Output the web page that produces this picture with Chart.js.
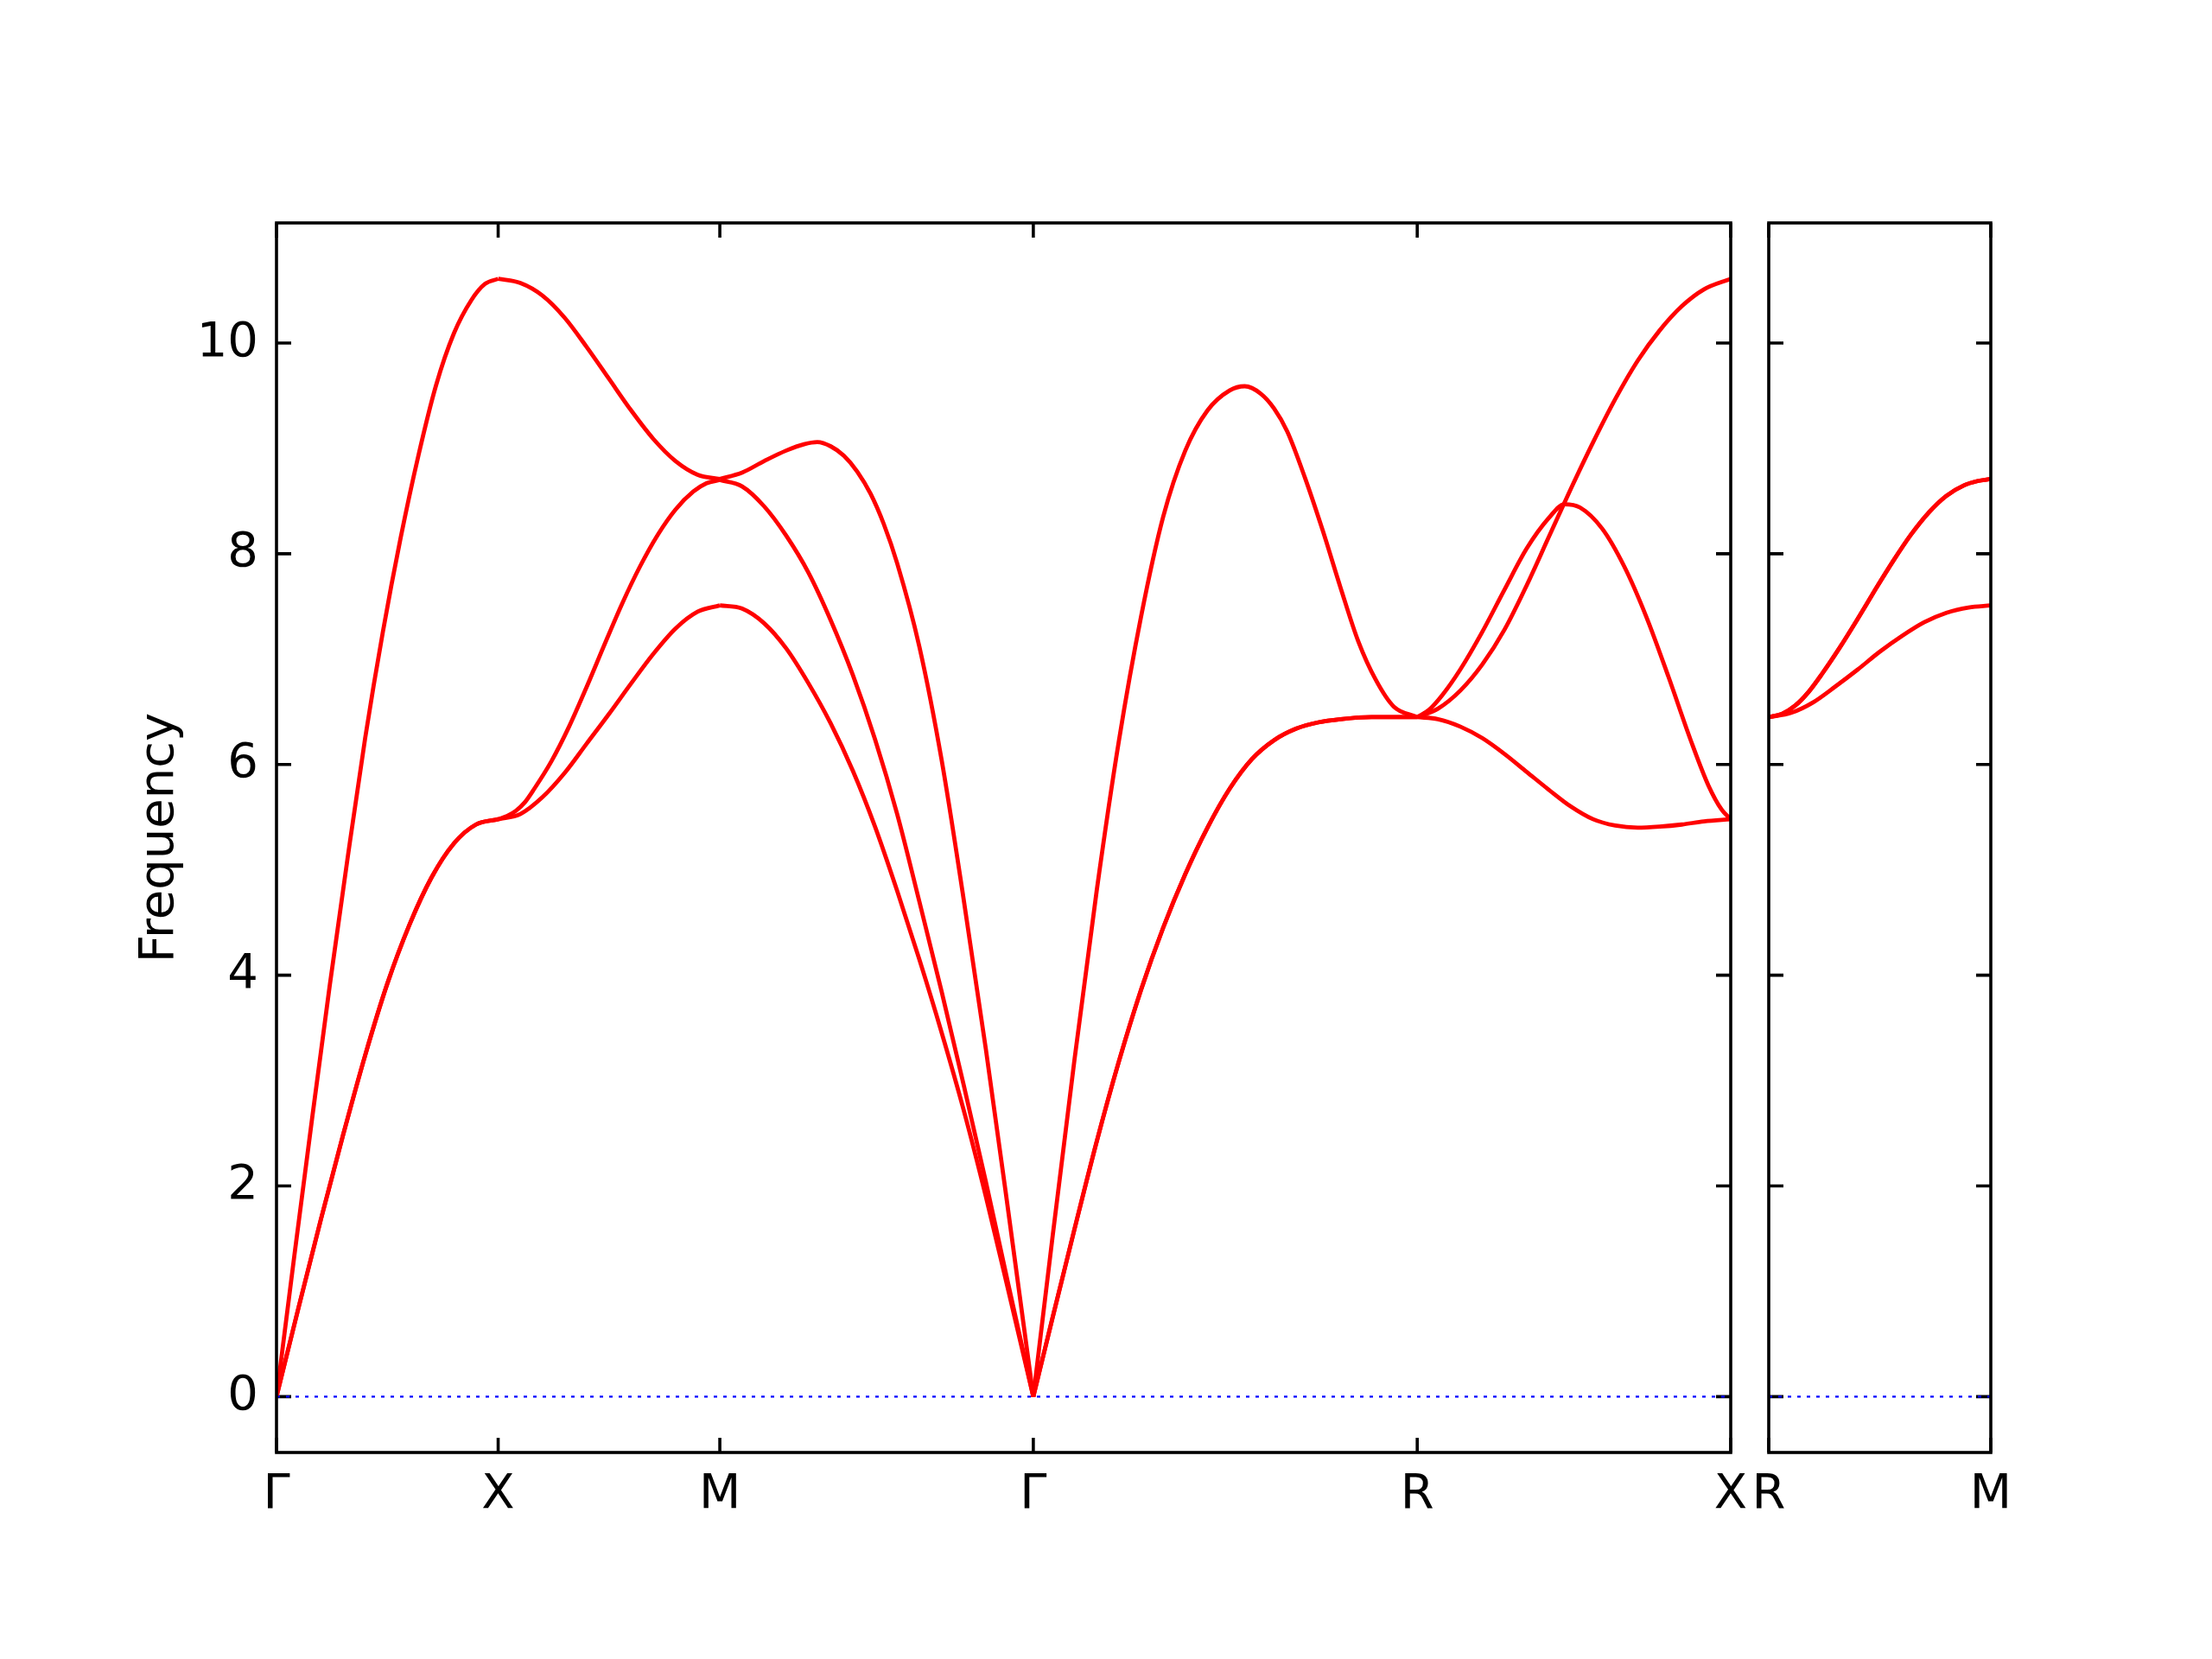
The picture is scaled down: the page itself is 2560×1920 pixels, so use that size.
<!DOCTYPE html>
<html>
<head>
<meta charset="utf-8">
<title>Phonon band structure</title>
<script src="https://cdn.jsdelivr.net/npm/chart.js@4.4.1/dist/chart.umd.min.js"></script>
<style>
    html, body { margin: 0; padding: 0; background: #ffffff; }
    #fig { position: relative; width: 2560px; height: 1920px; }
    #fig canvas { position: absolute; left: 0; top: 0; }
</style>
</head>
<body>
<div id="fig">
    <canvas id="panel-main" width="2560" height="1920"></canvas>
    <canvas id="panel-side" width="2560" height="1920"></canvas>
</div>
<script>
// ========================================================================
// 1. DATA (path coordinate, frequency)
// ========================================================================

// high-symmetry points along the path
const pathMainPos = [0, 0.5, 1.0, 1.7071, 2.5731, 3.2802];
const pathMainLabels = ['Γ', 'X', 'M', 'Γ', 'R', 'X'];
const pathSidePos = [0, 0.5];
const pathSideLabels = ['R', 'M'];
const yTicks = [0, 2, 4, 6, 8, 10];
const yRange = [-0.53, 11.14];

// Γ - X
const gxLong = [[0,0],[0.04,1.33],[0.08,2.63],[0.12,3.90],[0.16,5.10],[0.20,6.25],[0.24,7.26],[0.28,8.15],[0.32,8.93],[0.36,9.60],[0.40,10.09],[0.44,10.41],[0.47,10.56],[0.5,10.61]];
const gxTrans = [[0,0],[0.05,0.85],[0.10,1.68],[0.15,2.48],[0.20,3.24],[0.25,3.92],[0.30,4.48],[0.35,4.93],[0.40,5.25],[0.45,5.43],[0.5,5.48]];

// X - M
const xmUpper = [[0.5,10.61],[0.55,10.57],[0.6,10.45],[0.65,10.24],[0.7,9.96],[0.75,9.66],[0.8,9.36],[0.85,9.09],[0.9,8.88],[0.95,8.75],[1.0,8.71]];
const xmMiddle = [[0.5,5.48],[0.52,5.51],[0.54,5.56],[0.56,5.64],[0.58,5.76],[0.62,6.03],[0.66,6.36],[0.70,6.74],[0.74,7.14],[0.78,7.53],[0.82,7.88],[0.86,8.18],[0.90,8.42],[0.94,8.59],[0.97,8.67],[1.0,8.70]];
const xmLower = [[0.5,5.48],[0.55,5.53],[0.60,5.69],[0.65,5.92],[0.70,6.20],[0.75,6.48],[0.80,6.77],[0.85,7.05],[0.90,7.29],[0.95,7.45],[1.0,7.51]];

// M - Γ
const mgUpper = [[1.0,8.71],[1.05,8.77],[1.10,8.88],[1.15,8.98],[1.19,9.04],[1.22,9.06],[1.25,9.02],[1.28,8.93],[1.31,8.78],[1.34,8.57],[1.37,8.28],[1.40,7.91],[1.45,7.12],[1.50,6.05],[1.55,4.72],[1.60,3.30],[1.65,1.78],[1.7071,0]];
const mgMiddle = [[1.0,8.70],[1.05,8.64],[1.10,8.45],[1.15,8.17],[1.20,7.82],[1.25,7.37],[1.30,6.85],[1.35,6.24],[1.40,5.53],[1.45,4.70],[1.50,3.85],[1.55,2.96],[1.60,2.04],[1.65,1.08],[1.7071,0]];
const mgLower = [[1.0,7.51],[1.05,7.48],[1.10,7.34],[1.15,7.10],[1.20,6.77],[1.25,6.39],[1.30,5.94],[1.35,5.41],[1.40,4.80],[1.45,4.15],[1.50,3.46],[1.55,2.72],[1.60,1.90],[1.65,1.02],[1.7071,0]];

// Γ - R
const grLong = [[1.7071,0],[1.75,1.50],[1.80,3.20],[1.85,4.80],[1.90,6.22],[1.95,7.40],[2.00,8.35],[2.05,8.98],[2.10,9.36],[2.15,9.55],[2.184,9.59],[2.22,9.52],[2.25,9.38],[2.28,9.16],[2.32,8.72],[2.36,8.22],[2.40,7.68],[2.44,7.17],[2.48,6.80],[2.52,6.55],[2.5731,6.45]];
const grTrans = [[1.7071,0],[1.75,0.74],[1.80,1.59],[1.85,2.42],[1.90,3.18],[1.95,3.86],[2.00,4.45],[2.05,4.96],[2.10,5.40],[2.15,5.77],[2.20,6.05],[2.25,6.23],[2.30,6.34],[2.35,6.40],[2.40,6.43],[2.47,6.45],[2.5731,6.45]];

// R - X
const rxRising = [[2.5731,6.45],[2.62,6.53],[2.67,6.70],[2.72,6.95],[2.77,7.28],[2.82,7.70],[2.87,8.16],[2.92,8.62],[2.97,9.06],[3.02,9.47],[3.07,9.83],[3.12,10.12],[3.17,10.35],[3.22,10.51],[3.2802,10.61]];
const rxHump = [[2.5731,6.45],[2.60,6.52],[2.63,6.66],[2.67,6.90],[2.72,7.26],[2.77,7.66],[2.82,8.05],[2.87,8.34],[2.905,8.47],[2.94,8.44],[2.99,8.24],[3.04,7.88],[3.09,7.40],[3.14,6.83],[3.19,6.23],[3.23,5.80],[3.26,5.57],[3.2802,5.48]];
const rxLower = [[2.5731,6.45],[2.62,6.43],[2.67,6.36],[2.72,6.25],[2.77,6.10],[2.82,5.93],[2.87,5.76],[2.92,5.60],[2.97,5.48],[3.02,5.42],[3.07,5.40],[3.12,5.41],[3.17,5.43],[3.22,5.46],[3.2802,5.48]];

// R - M (side panel)
const rmUpper = [[0,6.45],[0.03,6.48],[0.06,6.56],[0.09,6.69],[0.12,6.86],[0.16,7.11],[0.20,7.38],[0.24,7.66],[0.28,7.93],[0.32,8.18],[0.36,8.39],[0.40,8.55],[0.44,8.65],[0.47,8.69],[0.5,8.71]];
const rmLower = [[0,6.45],[0.05,6.49],[0.10,6.59],[0.15,6.74],[0.20,6.90],[0.25,7.07],[0.30,7.22],[0.35,7.35],[0.40,7.44],[0.45,7.49],[0.5,7.51]];

const mainBands = [gxLong, gxTrans, gxTrans, xmUpper, xmMiddle, xmLower, mgUpper, mgMiddle, mgLower,
                   grLong, grTrans, grTrans, rxRising, rxHump, rxLower];
const sideBands = [rmUpper, rmUpper, rmLower];

// ========================================================================
// 2. STYLE
// ========================================================================
const FONT = { family: 'DejaVu Sans', size: 56 };
const TICK_LEN = 17;
const AXIS_W = 3.6;

Chart.defaults.font.family = FONT.family;
Chart.defaults.font.size = FONT.size;
Chart.defaults.color = '#000';

// inward ticks on all four sides + box frame, placed through the chart scales
const frameTicks = {
    id: 'frameTicks',
    beforeDatasetsDraw(chart, args, opts) {
        const { ctx, chartArea: a } = chart;
        const xs = chart.scales.x, ys = chart.scales.y;
        ctx.save();
        ctx.strokeStyle = '#000';
        ctx.lineWidth = AXIS_W;
        ctx.beginPath();
        opts.xTicks.forEach(v => {
            const px = xs.getPixelForValue(v);
            ctx.moveTo(px, a.bottom); ctx.lineTo(px, a.bottom - TICK_LEN);
            ctx.moveTo(px, a.top); ctx.lineTo(px, a.top + TICK_LEN);
        });
        yTicks.forEach(v => {
            const py = ys.getPixelForValue(v);
            ctx.moveTo(a.left, py); ctx.lineTo(a.left + TICK_LEN, py);
            ctx.moveTo(a.right, py); ctx.lineTo(a.right - TICK_LEN, py);
        });
        ctx.stroke();
        ctx.restore();
    },
    afterDatasetsDraw(chart) {
        const { ctx, chartArea: a } = chart;
        ctx.save();
        ctx.strokeStyle = '#000';
        ctx.lineWidth = AXIS_W;
        ctx.strokeRect(a.left, a.top, a.right - a.left, a.bottom - a.top);
        ctx.restore();
    }
};

// ========================================================================
// 3. BUILD PANELS
// ========================================================================
function bandDataset(pairs) {
    return {
        data: pairs.map(p => ({ x: p[0], y: p[1] })),
        borderColor: '#ff0000',
        borderWidth: 4.8,
        pointRadius: 0,
        fill: false,
        cubicInterpolationMode: 'monotone'
    };
}

function zeroLine(xMax) {
    return {
        data: [{ x: 0, y: 0 }, { x: xMax, y: 0 }],
        borderColor: '#0000ff',
        borderWidth: 2.4,
        borderDash: [4, 7],
        pointRadius: 0,
        fill: false
    };
}

function makePanel(canvasId, bands, kPos, kLabels, padding, withYAxis) {
    const xMax = kPos[kPos.length - 1];
    const ctx = document.getElementById(canvasId).getContext('2d');
    return new Chart(ctx, {
        type: 'line',
        data: { datasets: [zeroLine(xMax), ...bands.map(bandDataset)] },
        plugins: [frameTicks],
        options: {
            responsive: false,
            devicePixelRatio: 1,
            animation: false,
            layout: { padding: padding },
            plugins: {
                legend: { display: false },
                tooltip: { enabled: false },
                frameTicks: { xTicks: kPos }
            },
            scales: {
                x: {
                    type: 'linear',
                    position: 'bottom',
                    min: 0,
                    max: xMax,
                    afterBuildTicks: s => { s.ticks = kPos.map(v => ({ value: v })); },
                    afterFit: s => { s.height = 239; },
                    grid: { display: false },
                    border: { display: false },
                    ticks: {
                        autoSkip: false,
                        maxRotation: 0,
                        minRotation: 0,
                        padding: 8,
                        callback: (v, i) => kLabels[i]
                    }
                },
                y: {
                    type: 'linear',
                    display: withYAxis,
                    position: 'left',
                    min: yRange[0],
                    max: yRange[1],
                    afterBuildTicks: s => { s.ticks = yTicks.map(v => ({ value: v })); },
                    afterFit: s => { s.width = withYAxis ? 220 : 0; },
                    grid: { display: false },
                    border: { display: false },
                    ticks: { padding: 13 },
                    title: {
                        display: withYAxis,
                        text: 'Frequency',
                        padding: { top: 52, bottom: 0 }
                    }
                }
            }
        }
    });
}

makePanel('panel-main', mainBands, pathMainPos, pathMainLabels,
          { left: 100, top: 258, right: 557, bottom: 0 }, true);
makePanel('panel-side', sideBands, pathSidePos, pathSideLabels,
          { left: 2047, top: 258, right: 256, bottom: 0 }, false);
</script>
</body>
</html>
